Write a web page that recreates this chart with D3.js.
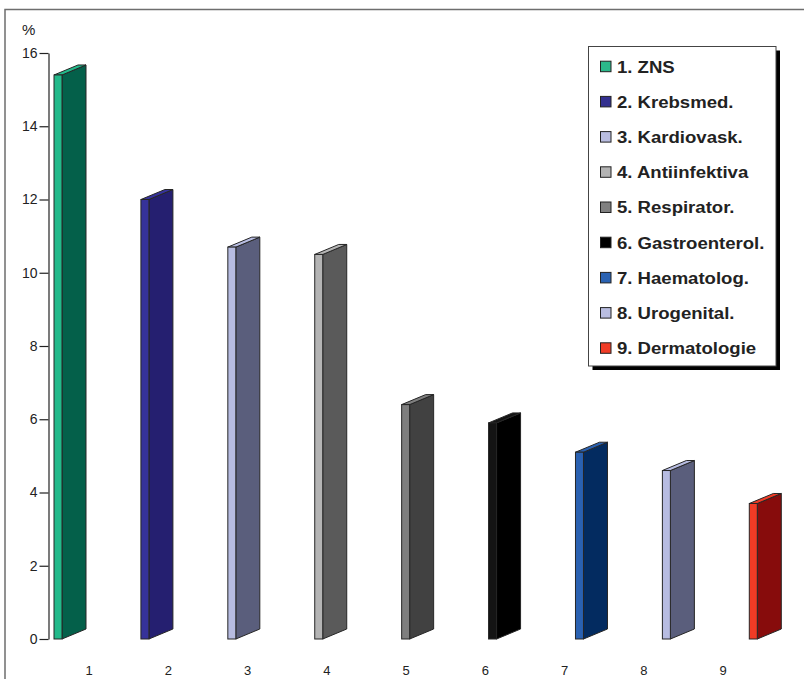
<!DOCTYPE html>
<html>
<head>
<meta charset="utf-8">
<script src="https://cdn.jsdelivr.net/npm/d3@7"></script>
<style>
  html, body { margin: 0; padding: 0; background: #fff; }
  svg { display: block; }
  text { font-family: "Liberation Sans", Arial, Helvetica, sans-serif; }
</style>
</head>
<body>
<svg id="chart" width="804" height="679"></svg>
<script>
// Therapeutic area shares, in percent
const categories = ["1", "2", "3", "4", "5", "6", "7", "8", "9"];
const legendLabels = [
  "1. ZNS", "2. Krebsmed.", "3. Kardiovask.", "4. Antiinfektiva",
  "5. Respirator.", "6. Gastroenterol.", "7. Haematolog.", "8. Urogenital.",
  "9. Dermatologie"
];
const values = [15.4, 12.0, 10.7, 10.5, 6.4, 5.9, 5.1, 4.6, 3.7];
const yTicks = [0, 2, 4, 6, 8, 10, 12, 14, 16];

// Face colours: front/top (light) and side (dark)
const frontColors = ["#22b98a", "#36329a", "#b7bce1", "#b4b4b4", "#7e7e7e", "#141414", "#2a61b1", "#b7bce1", "#f03b25"];
const sideColors  = ["#04604a", "#251f70", "#5a5e7c", "#5a5a5a", "#414141", "#000000", "#032b60", "#5a5e7c", "#870c0c"];
const legendColors = ["#2bb88a", "#33308f", "#b9bde0", "#b3b3b3", "#808080", "#000000", "#2a62b2", "#b9bde0", "#f03c26"];

const svg = d3.select("#chart");

// Outer frame
svg.append("rect")
  .attr("x", 5).attr("y", 9.5)
  .attr("width", 820).attr("height", 700)
  .attr("fill", "none").attr("stroke", "#6e6e6e").attr("stroke-width", 1.5);

const y = d3.scaleLinear().domain([0, 16]).range([639, 53]);
const xBar = d3.scalePoint().domain(categories).range([54, 749.3]);
const xLabel = d3.scalePoint().domain(categories).range([89, 723]);

const faceW = 8, depthX = 24, depthY = 10;

// Y axis
const yAxis = d3.axisLeft(y).tickValues(yTicks).tickSize(9).tickSizeOuter(0).tickPadding(2);
const gy = svg.append("g").attr("transform", "translate(48.5,0)").call(yAxis);
gy.select(".domain").attr("stroke", "#222").attr("stroke-width", 1.2);
gy.selectAll(".tick line").attr("stroke", "#222").attr("stroke-width", 1.2);
gy.selectAll(".tick text").attr("fill", "#222").style("font-size", "14px")
  .style("font-family", "'Liberation Sans', Arial, sans-serif");

svg.append("text")
  .attr("x", 22).attr("y", 35)
  .attr("fill", "#222").style("font-size", "15px")
  .text("%");

// Category labels
svg.append("g").selectAll("text")
  .data(categories)
  .join("text")
  .attr("x", d => xLabel(d))
  .attr("y", 675)
  .attr("text-anchor", "middle")
  .attr("fill", "#222")
  .style("font-size", "13px")
  .text(d => d);

// 3D bars
const bars = svg.append("g").selectAll("g")
  .data(values.map((v, i) => ({ v, i, c: categories[i] })))
  .join("g");

const stroke = "#262626";

bars.append("polygon")
  .attr("points", d => {
    const x0 = xBar(d.c) + faceW, y0 = y(0), y1 = y(d.v);
    return [[x0, y0], [x0, y1], [x0 + depthX, y1 - depthY], [x0 + depthX, y0 - depthY]].join(" ");
  })
  .attr("fill", d => sideColors[d.i])
  .attr("stroke", stroke).attr("stroke-width", 1).attr("stroke-linejoin", "round");

bars.append("polygon")
  .attr("points", d => {
    const x0 = xBar(d.c), y1 = y(d.v);
    return [[x0, y1], [x0 + faceW, y1], [x0 + faceW + depthX, y1 - depthY], [x0 + depthX, y1 - depthY]].join(" ");
  })
  .attr("fill", d => frontColors[d.i])
  .attr("stroke", stroke).attr("stroke-width", 1).attr("stroke-linejoin", "round");

bars.append("rect")
  .attr("x", d => xBar(d.c))
  .attr("y", d => y(d.v))
  .attr("width", faceW)
  .attr("height", d => y(0) - y(d.v))
  .attr("fill", d => frontColors[d.i])
  .attr("stroke", stroke).attr("stroke-width", 1);

// Legend box with drop shadow
const legend = svg.append("g");
legend.append("rect")
  .attr("x", 592.5).attr("y", 50.5).attr("width", 187.5).attr("height", 319.5)
  .attr("fill", "#000");
legend.append("rect")
  .attr("x", 588.5).attr("y", 46.5).attr("width", 187.5).attr("height", 319.5)
  .attr("fill", "#fff").attr("stroke", "#444").attr("stroke-width", 1);

const ly = d3.scalePoint().domain(legendLabels).range([66.7, 348.3]);

const items = legend.selectAll("g.item")
  .data(legendLabels)
  .join("g").attr("class", "item");

items.append("rect")
  .attr("x", 600.5)
  .attr("y", d => ly(d) - 5.5)
  .attr("width", 10.5).attr("height", 10.5)
  .attr("fill", (d, i) => legendColors[i])
  .attr("stroke", "#222").attr("stroke-width", 1);

items.append("text")
  .attr("transform", d => `translate(617,${ly(d) + 5.8}) scale(1.16,1)`)
  .attr("fill", "#222")
  .style("font-size", "16px")
  .style("font-weight", "bold")
  .text(d => d);
</script>
</body>
</html>
